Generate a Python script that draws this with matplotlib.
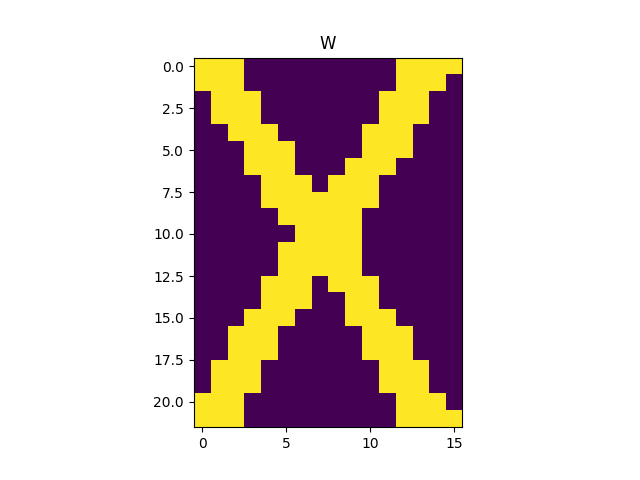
import numpy as np
import matplotlib
matplotlib.use("Agg")
import matplotlib.pyplot as plt

title = "W"

# one string per row, 1 = lit cell
rows = [
    "1110000000001111",
    "1110000000001110",
    "0111000000011100",
    "0111000000011100",
    "0011100000111000",
    "0001110000111000",
    "0001110001110000",
    "0000111011100000",
    "0000111111100000",
    "0000011111000000",
    "0000001111000000",
    "0000011111000000",
    "0000011111000000",
    "0000111011100000",
    "0000111001100000",
    "0001110001110000",
    "0011100000111000",
    "0011100000111000",
    "0111000000011100",
    "0111000000011100",
    "1110000000001110",
    "1110000000001111",
]

grid = np.array([[int(ch) for ch in r] for r in rows])

fig, ax = plt.subplots(figsize=(6.4, 4.8), dpi=100)
ax.imshow(grid, cmap="viridis")
ax.set_title(title)
fig.savefig("out.png", dpi=100)
